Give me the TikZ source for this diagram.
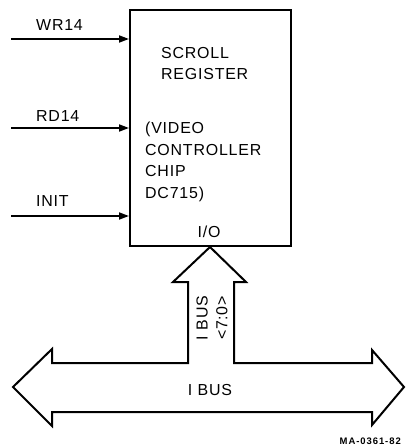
\documentclass[tikz,border=0pt]{standalone}
\usepackage{fontspec}
\setmainfont{Liberation Sans}[LetterSpace=5]
\newfontfamily\tagfont{Liberation Sans}[LetterSpace=10]
\usepackage{tikz}
\usetikzlibrary{arrows.meta,positioning}

\begin{document}
\begin{tikzpicture}[
    x=1bp, y=-1bp,
    chipbox/.style={rectangle, draw, line width=2bp, minimum width=161bp, minimum height=236bp, anchor=north west, inner sep=0pt},
    label/.style={font=\fontsize{16}{18}\selectfont, inner sep=0pt},
    inner/.style={font=\fontsize{16}{21.5}\selectfont, align=left, inner sep=0pt},
    signal/.style={-{Triangle[length=10bp,width=7bp]}, line width=1.8bp},
    bus/.style={draw, line width=2bp, line join=miter},
]
\useasboundingbox (0,0) rectangle (405,447);

% --- Chip block ---
\node[chipbox] (chip) at (129,9) {};
\node[inner, anchor=north west] (title) at (161,47) {SCROLL\\REGISTER};
\node[inner, anchor=north west] (desc) at (145,122) {(VIDEO\\CONTROLLER\\CHIP\\DC715)};
\node[label] (io) at (209,232) {I/O};

% --- Input signals ---
\coordinate (wr) at (11,39);
\coordinate (rd) at (11,128);
\coordinate (init) at (11,216);
\node[label, anchor=west] (wrlab) at (36,25) {WR14};
\node[label, anchor=west] (rdlab) at (36,116) {RD14};
\node[label, anchor=west] (initlab) at (36,201) {INIT};
\draw[signal] (wr) -- (wr -| chip.west);
\draw[signal] (rd) -- (rd -| chip.west);
\draw[signal] (init) -- (init -| chip.west);

% --- I BUS with branch up to the chip ---
\coordinate (tip) at (chip.south -| 210,0);
\draw[bus] (13,387) -- (52,349) -- (52,363) -- (188,363) -- (188,282) -- (173,282)
    -- (tip) -- (246,282) -- (234,282) -- (234,363) -- (372,363) -- (372,350)
    -- (404,387) -- (372,425) -- (372,412) -- (52,412) -- (52,426) -- cycle;
\node[label] (ibus) at (210,390) {I BUS};
\node[label, rotate=90, align=center, font=\fontsize{16}{20}\selectfont] (branch) at (212,318) {I BUS\\<7:0>};

% --- Figure tag ---
\node[anchor=east, inner sep=0pt, font=\tagfont\fontsize{9.5}{11}\selectfont\bfseries] (tag) at (401,441) {MA-0361-82};

\end{tikzpicture}
\end{document}
